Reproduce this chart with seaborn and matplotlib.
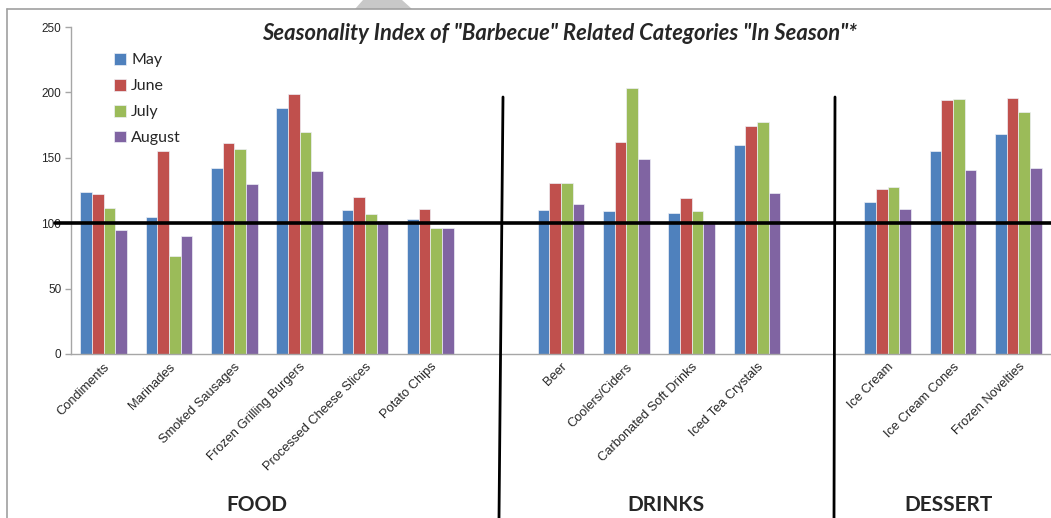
import matplotlib
matplotlib.use("Agg")
import matplotlib.pyplot as plt
import seaborn as sns
import pandas as pd
from matplotlib.lines import Line2D
from matplotlib.patches import Polygon

# ---------------- data ----------------
categories = ["Condiments", "Marinades", "Smoked Sausages", "Frozen Grilling Burgers",
              "Processed Cheese Slices", "Potato Chips",
              "Beer", "Coolers/Ciders", "Carbonated Soft Drinks", "Iced Tea Crystals",
              "Ice Cream", "Ice Cream Cones", "Frozen Novelties"]
months = ["May", "June", "July", "August"]
may    = [124, 105, 142, 188, 110, 103, 110, 109, 108, 160, 116, 155, 168]
june   = [122, 155, 161, 199, 120, 111, 131, 162, 119, 174, 126, 194, 196]
july   = [112,  75, 157, 170, 107,  96, 131, 203, 109, 177, 128, 195, 185]
august = [ 95,  90, 130, 140, 102,  96, 115, 149, 102, 123, 111, 141, 142]
# slot order with blank spacer slots between the groups
slot_order = ["Condiments", "Marinades", "Smoked Sausages", "Frozen Grilling Burgers",
              "Processed Cheese Slices", "Potato Chips", " ",
              "Beer", "Coolers/Ciders", "Carbonated Soft Drinks", "Iced Tea Crystals", "  ",
              "Ice Cream", "Ice Cream Cones", "Frozen Novelties"]
group_labels = ["FOOD", "DRINKS", "DESSERT"]
yticks = [0, 50, 100, 150, 200, 250]
baseline = 100
title = 'Seasonality Index of "Barbecue" Related Categories "In Season"*'

colors = ["#4F81BD", "#C0504D", "#9BBB59", "#8064A2"]

rows = []
for vals, m in zip([may, june, july, august], months):
    for c, v in zip(categories, vals):
        rows.append({"Category": c, "Month": m, "Index": v})
df = pd.DataFrame(rows)

# ---------------- figure ----------------
sns.set_style("white")
plt.rcParams["font.family"] = ["Liberation Sans", "DejaVu Sans"]

W, H = 1051, 518
fig = plt.figure(figsize=(W / 100, H / 100), dpi=100)
ax_left, ax_right = 71, 1051
ax_bottom, ax_top = 354, 27
ax = fig.add_axes([ax_left / W, (H - ax_bottom) / H,
                   (ax_right - ax_left) / W, (ax_bottom - ax_top) / H])

slot_px = 65.7
sns.barplot(data=df, x="Category", y="Index", hue="Month", order=slot_order,
            hue_order=months, palette=colors, width=0.715, saturation=1,
            edgecolor="#eef0f6", linewidth=0.5, ax=ax, legend=True)

ax.set_ylim(0, 250)
ax.set_xlim(-0.5, -0.5 + (ax_right - ax_left) / slot_px)
ax.set_yticks(yticks)
ax.set_yticklabels([str(t) for t in yticks], fontsize=8.5)
ax.set_xlabel("")
ax.set_ylabel("")

# category labels at centers, tick marks at slot boundaries
ax.set_xticks(range(len(slot_order)))
ax.set_xticklabels([s.strip() for s in slot_order], rotation=45, ha="right",
                   rotation_mode="anchor", fontsize=9.3)
ax.tick_params(axis="x", which="major", length=0, pad=5)
ax.set_xticks([i - 0.5 for i in range(len(slot_order) + 1)], minor=True)
ax.tick_params(axis="x", which="minor", length=4, color="#a6a6a6", width=1, direction="out")
ax.tick_params(axis="y", which="major", length=4, color="#a6a6a6", width=1,
               direction="out", left=True, pad=3)

for s in ["top", "right"]:
    ax.spines[s].set_visible(False)
for s in ["left", "bottom"]:
    ax.spines[s].set_color("#a6a6a6")
    ax.spines[s].set_linewidth(1)

# thick reference line at index 100
ax.axhline(baseline, xmin=-16 / (ax_right - ax_left), xmax=1, color="black",
           lw=2.6, clip_on=False, zorder=5)

# legend
leg = ax.legend(loc="upper left", bbox_to_anchor=(0.037, 0.94), frameon=False,
                handlelength=0.75, handleheight=0.75, handletextpad=0.35,
                labelspacing=0.72, fontsize=11.5, borderaxespad=0)
for t in leg.get_texts():
    t.set_family(["Lato", "DejaVu Sans"])

# title
fig.text(560 / W, 1 - 34 / H, title, ha="center", va="center",
         fontsize=15.8, fontweight="bold", fontstyle="italic",
         family=["Lato", "DejaVu Sans"])

# group labels
for lab, xp in zip(group_labels, [257, 666, 948]):
    fig.text(xp / W, 1 - 505 / H, lab, ha="center", va="center",
             fontsize=15, fontweight="bold", family=["Lato", "DejaVu Sans"])

# separators
fig.add_artist(Line2D([503 / W, 499 / W], [1 - 97 / H, 0], color="black", lw=2.0))
fig.add_artist(Line2D([835 / W, 834 / W], [1 - 97 / H, 0], color="black", lw=2.0))

# outer frame and tab
fig.add_artist(Line2D([6.5 / W, 6.5 / W], [1 - 9 / H, 0], color="#a0a0a0", lw=1.2))
fig.add_artist(Line2D([6.5 / W, 1], [1 - 9 / H, 1 - 9 / H], color="#a0a0a0", lw=1.2))
fig.add_artist(Polygon([[355 / W, 1 - 9 / H], [363 / W, 1], [402 / W, 1], [412 / W, 1 - 9 / H]],
                       closed=True, transform=fig.transFigure, color="#c8c8c8", lw=0))

fig.savefig("out.png", dpi=100)
